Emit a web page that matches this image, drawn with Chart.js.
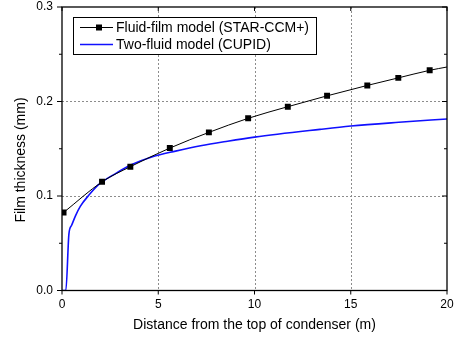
<!DOCTYPE html>
<html>
<head>
<meta charset="utf-8">
<script src="https://cdn.jsdelivr.net/npm/chart.js@4"></script>
<style>
  html, body { margin: 0; padding: 0; background: #fff; }
  #wrap { width: 454px; height: 339px; }
</style>
</head>
<body>
<div id="wrap"><canvas id="myChart" width="454" height="339"></canvas></div>
<script>
// data
const filmX = [0.08, 2.08, 3.55, 5.6, 7.63, 9.67, 11.73, 13.77, 15.86, 17.47, 19.1, 20];
const filmY = [0.0825, 0.115, 0.131, 0.1507, 0.1673, 0.1822, 0.1945, 0.206, 0.217, 0.225, 0.233, 0.2365];
const filmMarker = [1, 1, 1, 1, 1, 1, 1, 1, 1, 1, 1, 0]; // last point is line end only

const cupidX = [0, 0.2, 0.36, 0.5, 0.7, 0.95, 1.4, 1.9, 2.8, 3.6, 4.7, 5.9, 7.2, 8.6, 10, 13.4, 15, 17.5, 20];
const cupidY = [0, 0, 0.06, 0.069, 0.079, 0.089, 0.101, 0.112, 0.124, 0.133, 0.1415, 0.1475, 0.1532, 0.158, 0.1623, 0.1705, 0.174, 0.178, 0.1815];

const xTicks = [0, 5, 10, 15, 20];
const yTicks = [0.0, 0.1, 0.2, 0.3];
const yMinor = [0.05, 0.15, 0.25];

const seriesNames = ['Fluid-film model (STAR-CCM+)', 'Two-fluid model (CUPID)'];
const xTitle = 'Distance from the top of condenser (m)';
const yTitle = 'Film thickness (mm)';

const FONT = 'Arial, "Liberation Sans", sans-serif';

function noPad(s) {
    s.paddingLeft = 0; s.paddingRight = 0; s.paddingTop = 0; s.paddingBottom = 0;
}

// grid, frame, tick marks, y title and the boxed legend
const framePlugin = {
    id: 'frame',
    beforeDatasetsDraw(chart) {
        const c = chart.ctx, a = chart.chartArea;
        const xs = chart.scales.x, ys = chart.scales.y;
        c.save();
        c.strokeStyle = '#8c8c8c';
        c.lineWidth = 1;
        c.setLineDash([2, 2]);
        xTicks.slice(1, -1).forEach(v => {
            const px = Math.round(xs.getPixelForValue(v)) + 0.5;
            c.beginPath(); c.moveTo(px, a.top); c.lineTo(px, a.bottom); c.stroke();
        });
        yTicks.slice(1, -1).forEach(v => {
            const py = Math.round(ys.getPixelForValue(v)) + 0.5;
            c.beginPath(); c.moveTo(a.left, py); c.lineTo(a.right, py); c.stroke();
        });
        c.restore();
    },
    afterDatasetsDraw(chart) {
        const c = chart.ctx, a = chart.chartArea;
        const xs = chart.scales.x, ys = chart.scales.y;
        c.save();
        c.strokeStyle = '#000';
        c.lineWidth = 1.3;
        c.strokeRect(a.left, a.top, a.right - a.left, a.bottom - a.top);
        c.lineWidth = 1;
        c.beginPath();
        yTicks.forEach(v => {
            const py = ys.getPixelForValue(v);
            c.moveTo(a.left - 5, py); c.lineTo(a.left, py);
            c.moveTo(a.right - 5, py); c.lineTo(a.right, py);
        });
        yMinor.forEach(v => {
            const py = ys.getPixelForValue(v);
            c.moveTo(a.left - 3, py); c.lineTo(a.left, py);
            c.moveTo(a.right - 3, py); c.lineTo(a.right, py);
        });
        xTicks.forEach(v => {
            const px = xs.getPixelForValue(v);
            c.moveTo(px, a.bottom); c.lineTo(px, a.bottom + 4);
            c.moveTo(px, a.top); c.lineTo(px, a.top + 4);
        });
        c.stroke();

        // y title
        c.fillStyle = '#000';
        c.font = '14px ' + FONT;
        c.textAlign = 'center';
        c.textBaseline = 'middle';
        c.translate(21, 160);
        c.rotate(-Math.PI / 2);
        c.fillText(yTitle, 0, 0);
        c.restore();

        // legend box
        c.save();
        c.fillStyle = '#fff';
        c.fillRect(73.5, 17.5, 243, 37);
        c.strokeStyle = '#000';
        c.lineWidth = 1;
        c.strokeRect(73.5, 17.5, 243, 37);
        c.font = '14px ' + FONT;
        c.textAlign = 'left';
        c.textBaseline = 'middle';
        const rows = [27, 44];
        chart.data.datasets.forEach((ds, i) => {
            const y = rows[i];
            c.strokeStyle = ds.borderColor;
            c.lineWidth = ds.borderWidth;
            c.beginPath(); c.moveTo(80, y + 0.5); c.lineTo(113, y + 0.5); c.stroke();
            if (i === 0) {
                c.fillStyle = '#000';
                c.fillRect(96, y - 2.5, 6, 6);
            }
            c.fillStyle = '#000';
            c.fillText(ds.label, 116, y + 1);
        });
        c.restore();
    }
};

let ctx = document.querySelector('#myChart').getContext('2d');

let graphData = {
    type: 'line',
    data: {
        datasets: [{
            label: seriesNames[0],
            data: filmX.map((x, i) => ({x: x, y: filmY[i]})),
            borderColor: '#000',
            backgroundColor: '#000',
            borderWidth: 1,
            pointStyle: 'rect',
            pointRadius: filmMarker.map(m => m ? 4.2 : 0),
            pointBorderWidth: 0,
            cubicInterpolationMode: 'monotone',
            fill: false,
            order: 0
        }, {
            label: seriesNames[1],
            data: cupidX.map((x, i) => ({x: x, y: cupidY[i]})),
            borderColor: '#1010ff',
            backgroundColor: '#1010ff',
            borderWidth: 1.6,
            pointRadius: 0,
            cubicInterpolationMode: 'monotone',
            fill: false,
            order: 1
        }]
    },
    options: {
        responsive: false,
        animation: false,
        layout: { padding: { top: 7, right: 7, left: 0, bottom: 0 } },
        plugins: { legend: { display: false }, tooltip: { enabled: false } },
        scales: {
            x: {
                type: 'linear', min: 0, max: 20,
                afterFit: s => { s.height = 48.5; noPad(s); },
                afterBuildTicks: s => { s.ticks = xTicks.map(v => ({value: v})); },
                ticks: { color: '#000', font: { family: FONT, size: 12 }, padding: 7, maxRotation: 0 },
                grid: { display: false, drawTicks: false },
                border: { display: false },
                title: { display: true, text: xTitle, color: '#000', font: { family: FONT, size: 14 }, padding: { top: 0, bottom: 5 } }
            },
            y: {
                type: 'linear', min: 0, max: 0.3,
                afterFit: s => { s.width = 62; noPad(s); },
                afterBuildTicks: s => { s.ticks = yTicks.map(v => ({value: v})); },
                ticks: { color: '#000', font: { family: FONT, size: 12 }, padding: 9, callback: v => v.toFixed(1) },
                grid: { display: false, drawTicks: false },
                border: { display: false }
            }
        }
    },
    plugins: [framePlugin]
};

let myChart = new Chart(ctx, graphData);
</script>
</body>
</html>
